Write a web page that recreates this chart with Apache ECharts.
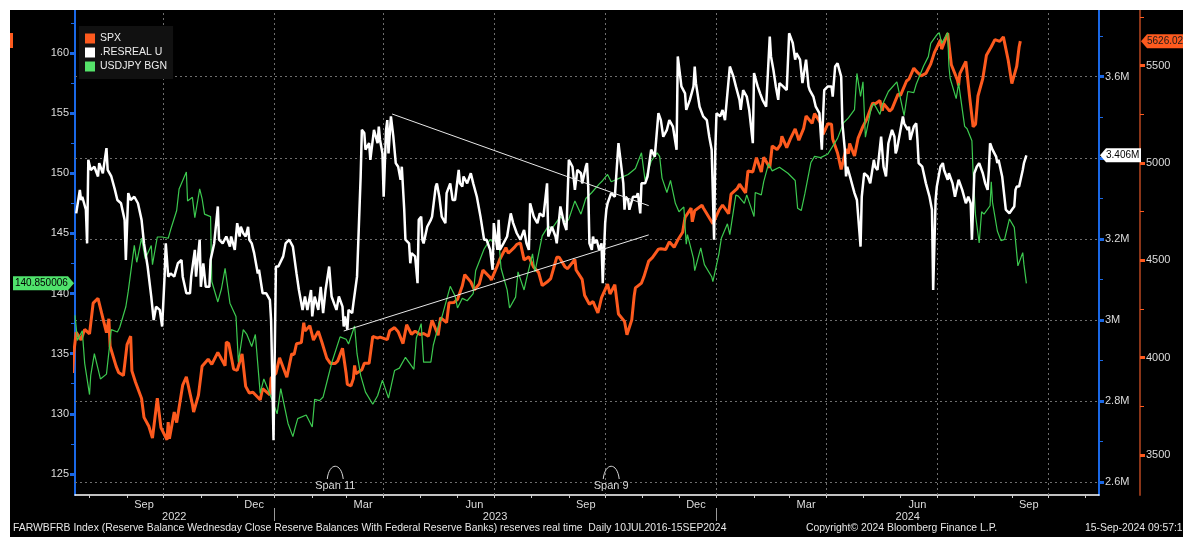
<!DOCTYPE html>
<html><head><meta charset="utf-8">
<script src="https://cdn.jsdelivr.net/npm/echarts@6/dist/echarts.min.js"></script>
<style>
html,body{margin:0;padding:0;background:#fff;width:1194px;height:546px;overflow:hidden}
#chart{position:absolute;left:10px;top:10px;width:1173px;height:527px;background:#000}
</style></head><body><div id="chart"></div>
<script>
// ---------------- DATA ----------------
const seriesNames = ['SPX', '.RESREAL U', 'USDJPY BGN'];

// SPX (right outer axis), [date, close]
const spx = [
['2022-07-18',3921],['2022-07-19',4024],['2022-07-21',4130],['2022-07-25',4091],['2022-07-28',4145],
['2022-08-01',4122],['2022-08-04',4280],['2022-08-08',4305],['2022-08-11',4228],['2022-08-15',4128],
['2022-08-17',4199],['2022-08-18',4058],['2022-08-23',3955],['2022-08-25',3924],['2022-08-29',3908],
['2022-09-01',4067],['2022-09-04',4110],['2022-09-05',3932],['2022-09-08',3873],['2022-09-13',3790],
['2022-09-15',3693],['2022-09-19',3647],['2022-09-22',3586],['2022-09-26',3791],['2022-09-29',3640],
['2022-10-04',3577],['2022-10-05',3669],['2022-10-06',3583],['2022-10-10',3720],['2022-10-12',3666],
['2022-10-17',3859],['2022-10-20',3901],['2022-10-25',3760],['2022-10-26',3720],['2022-10-30',3807],
['2022-11-02',3956],['2022-11-07',3992],['2022-11-10',3965],['2022-11-15',4027],['2022-11-21',3958],
['2022-11-22',4080],['2022-11-24',4072],['2022-11-28',3941],['2022-12-01',3934],['2022-12-05',4019],
['2022-12-08',3852],['2022-12-11',3818],['2022-12-14',3822],['2022-12-20',3783],['2022-12-22',3840],
['2022-12-28',3808],['2022-12-29',3895],['2023-01-02',3919],['2023-01-05',3999],['2023-01-11',3899],
['2023-01-15',4019],['2023-01-17',4016],['2023-01-19',4071],['2023-01-23',4077],['2023-01-25',4179],
['2023-01-26',4136],['2023-01-30',4164],['2023-02-02',4090],['2023-02-06',4136],['2023-02-09',4079],
['2023-02-13',3997],['2023-02-16',3970],['2023-02-20',3970],['2023-02-22',3982],['2023-02-26',4048],
['2023-03-01',3918],['2023-03-02',3862],['2023-03-05',3855],['2023-03-07',3892],['2023-03-08',3960],
['2023-03-09',3917],['2023-03-14',3937],['2023-03-16',3971],['2023-03-20',3971],['2023-03-23',4109],
['2023-03-27',4100],['2023-03-29',4105],['2023-04-04',4092],['2023-04-06',4138],['2023-04-10',4154],
['2023-04-13',4133],['2023-04-17',4072],['2023-04-20',4169],['2023-04-24',4120],['2023-04-27',4136],
['2023-05-01',4119],['2023-05-04',4124],['2023-05-08',4110],['2023-05-11',4192],['2023-05-16',4115],
['2023-05-18',4205],['2023-05-23',4180],['2023-05-25',4282],['2023-05-29',4283],['2023-06-01',4299],
['2023-06-05',4369],['2023-06-07',4426],['2023-06-12',4389],['2023-06-15',4348],['2023-06-19',4378],
['2023-06-22',4450],['2023-06-28',4411],['2023-06-29',4399],['2023-07-04',4473],['2023-07-06',4505],
['2023-07-11',4565],['2023-07-13',4536],['2023-07-18',4566],['2023-07-20',4582],['2023-07-23',4589],
['2023-07-26',4502],['2023-07-30',4518],['2023-08-03',4464],['2023-08-07',4438],['2023-08-10',4370],
['2023-08-14',4388],['2023-08-17',4406],['2023-08-22',4515],['2023-08-24',4516],['2023-08-29',4465],
['2023-08-31',4457],['2023-09-06',4505],['2023-09-07',4450],['2023-09-12',4402],['2023-09-14',4320],
['2023-09-18',4274],['2023-09-21',4288],['2023-09-25',4229],['2023-09-28',4308],['2023-10-03',4377],
['2023-10-05',4327],['2023-10-09',4374],['2023-10-12',4224],['2023-10-17',4186],['2023-10-19',4117],
['2023-10-23',4194],['2023-10-25',4318],['2023-10-26',4358],['2023-10-31',4383],['2023-11-02',4415],
['2023-11-06',4496],['2023-11-09',4514],['2023-11-14',4557],['2023-11-16',4559],['2023-11-20',4555],
['2023-11-23',4595],['2023-11-27',4567],['2023-11-30',4604],['2023-12-04',4644],['2023-12-06',4720],
['2023-12-11',4768],['2023-12-12',4698],['2023-12-14',4755],['2023-12-20',4783],['2023-12-21',4770],
['2023-12-29',4688],['2023-12-30',4697],['2024-01-03',4757],['2024-01-06',4784],['2024-01-11',4739],
['2024-01-13',4840],['2024-01-18',4868],['2024-01-20',4891],['2024-01-25',4846],['2024-01-27',4959],
['2024-01-31',4954],['2024-02-03',5027],['2024-02-07',4953],['2024-02-09',5030],['2024-02-14',4976],
['2024-02-16',5087],['2024-02-20',5069],['2024-02-23',5096],['2024-02-24',5137],['2024-02-28',5079],
['2024-03-02',5124],['2024-03-06',5175],['2024-03-09',5117],['2024-03-13',5178],['2024-03-15',5241],
['2024-03-20',5204],['2024-03-22',5254],['2024-03-27',5206],['2024-03-29',5147],['2024-04-02',5202],
['2024-04-05',5199],['2024-04-06',5123],['2024-04-10',5051],['2024-04-13',4967],['2024-04-17',5071],
['2024-04-19',5048],['2024-04-20',5100],['2024-04-24',5036],['2024-04-27',5128],['2024-05-01',5188],
['2024-05-04',5223],['2024-05-09',5308],['2024-05-11',5303],['2024-05-15',5321],['2024-05-17',5268],
['2024-05-18',5305],['2024-05-23',5267],['2024-05-25',5278],['2024-05-30',5354],['2024-06-01',5347],
['2024-06-06',5421],['2024-06-08',5431],['2024-06-12',5487],['2024-06-15',5465],['2024-06-18',5448],
['2024-06-22',5460],['2024-06-26',5509],['2024-06-29',5567],['2024-07-04',5633],['2024-07-05',5585],
['2024-07-10',5667],['2024-07-13',5505],['2024-07-18',5427],['2024-07-19',5399],['2024-07-20',5459],
['2024-07-25',5522],['2024-07-28',5346],['2024-07-31',5186],['2024-08-02',5199],['2024-08-04',5344],
['2024-08-08',5434],['2024-08-11',5554],['2024-08-15',5597],['2024-08-18',5634],['2024-08-22',5625],
['2024-08-25',5648],['2024-08-29',5528],['2024-09-01',5408],['2024-09-05',5496],['2024-09-07',5596],
['2024-09-08',5626.02]
];

// Reserve balances (right inner axis, in M units as on axis), [date, value]
const reserves = [
['2022-07-21',3.263],['2022-07-24',3.321],['2022-07-25',3.296],['2022-07-26',3.304],['2022-07-29',3.272],
['2022-07-30',3.189],['2022-07-31',3.395],['2022-08-02',3.370],['2022-08-05',3.378],['2022-08-08',3.354],
['2022-08-09',3.387],['2022-08-12',3.362],['2022-08-15',3.424],['2022-08-16',3.370],['2022-08-19',3.354],
['2022-08-22',3.321],['2022-08-24',3.296],['2022-08-27',3.288],['2022-08-30',3.247],['2022-08-31',3.148],
['2022-09-02',3.313],['2022-09-04',3.296],['2022-09-07',3.304],['2022-09-10',3.288],['2022-09-13',3.247],
['2022-09-15',3.189],['2022-09-18',3.132],['2022-09-21',3.058],['2022-09-23',3.000],['2022-09-25',3.033],
['2022-09-28',3.025],['2022-09-30',2.984],['2022-10-02',3.107],['2022-10-03',3.189],['2022-10-05',3.107],
['2022-10-07',3.115],['2022-10-10',3.107],['2022-10-13',3.140],['2022-10-16',3.148],['2022-10-17',3.107],
['2022-10-20',3.066],['2022-10-23',3.066],['2022-10-24',3.107],['2022-10-27',3.173],['2022-10-28',3.107],
['2022-10-31',3.198],['2022-11-01',3.082],['2022-11-03',3.140],['2022-11-05',3.082],['2022-11-08',3.082],
['2022-11-09',3.148],['2022-11-12',3.189],['2022-11-15',3.280],['2022-11-16',3.198],['2022-11-19',3.189],
['2022-11-22',3.206],['2022-11-25',3.181],['2022-11-26',3.206],['2022-11-29',3.173],['2022-12-01',3.239],
['2022-12-03',3.206],['2022-12-04',3.230],['2022-12-06',3.214],['2022-12-08',3.206],['2022-12-10',3.230],
['2022-12-11',3.198],['2022-12-13',3.189],['2022-12-15',3.165],['2022-12-18',3.115],['2022-12-19',3.124],
['2022-12-22',3.066],['2022-12-25',3.066],['2022-12-28',3.050],['2022-12-29',3.000],['2022-12-30',2.860],
['2022-12-31',2.704],['2023-01-02',3.132],['2023-01-04',3.132],['2023-01-08',3.157],['2023-01-10',3.189],
['2023-01-13',3.198],['2023-01-16',3.181],['2023-01-19',3.115],['2023-01-21',3.074],['2023-01-24',3.025],
['2023-01-26',3.058],['2023-01-28',3.025],['2023-01-31',3.074],['2023-02-01',3.009],['2023-02-03',3.058],
['2023-02-06',3.025],['2023-02-08',3.082],['2023-02-10',3.017],['2023-02-12',3.074],['2023-02-15',3.132],
['2023-02-17',3.058],['2023-02-19',3.041],['2023-02-21',3.025],['2023-02-23',3.058],['2023-02-26',3.033],
['2023-02-27',2.984],['2023-02-28',3.009],['2023-03-02',2.976],['2023-03-03',3.025],['2023-03-06',3.017],
['2023-03-07',3.041],['2023-03-10',3.107],['2023-03-11',3.189],['2023-03-13',3.354],['2023-03-14',3.469],
['2023-03-16',3.461],['2023-03-17',3.420],['2023-03-20',3.436],['2023-03-21',3.395],['2023-03-24',3.469],
['2023-03-27',3.436],['2023-03-28',3.477],['2023-03-29',3.444],['2023-03-31',3.411],['2023-04-01',3.304],
['2023-04-03',3.469],['2023-04-04',3.493],['2023-04-05',3.411],['2023-04-07',3.502],['2023-04-08',3.506],
['2023-04-09',3.452],['2023-04-11',3.387],['2023-04-13',3.378],['2023-04-15',3.346],['2023-04-16',3.378],
['2023-04-18',3.272],['2023-04-19',3.198],['2023-04-22',3.189],['2023-04-23',3.140],['2023-04-24',3.165],
['2023-04-27',3.157],['2023-04-29',3.091],['2023-04-30',3.247],['2023-05-02',3.255],['2023-05-03',3.198],
['2023-05-04',3.189],['2023-05-07',3.230],['2023-05-10',3.247],['2023-05-11',3.255],['2023-05-14',3.329],
['2023-05-15',3.337],['2023-05-17',3.304],['2023-05-19',3.255],['2023-05-22',3.239],['2023-05-23',3.313],
['2023-05-26',3.337],['2023-05-28',3.296],['2023-05-30',3.296],['2023-06-02',3.370],['2023-06-03',3.337],
['2023-06-05',3.329],['2023-06-06',3.354],['2023-06-09',3.337],['2023-06-12',3.362],['2023-06-14',3.337],
['2023-06-17',3.304],['2023-06-20',3.255],['2023-06-23',3.198],['2023-06-25',3.198],['2023-06-28',3.173],
['2023-06-30',3.124],['2023-07-01',3.239],['2023-07-04',3.173],['2023-07-05',3.247],['2023-07-06',3.173],
['2023-07-09',3.189],['2023-07-12',3.206],['2023-07-15',3.263],['2023-07-17',3.239],['2023-07-20',3.214],
['2023-07-23',3.198],['2023-07-26',3.222],['2023-07-28',3.189],['2023-07-30',3.173],['2023-07-31',3.288],
['2023-08-03',3.255],['2023-08-06',3.239],['2023-08-08',3.263],['2023-08-11',3.255],['2023-08-14',3.337],
['2023-08-15',3.206],['2023-08-18',3.230],['2023-08-21',3.206],['2023-08-22',3.189],['2023-08-25',3.280],
['2023-08-28',3.239],['2023-08-30',3.222],['2023-09-01',3.395],['2023-09-04',3.378],['2023-09-06',3.321],
['2023-09-08',3.370],['2023-09-11',3.362],['2023-09-12',3.337],['2023-09-15',3.378],['2023-09-16',3.387],
['2023-09-17',3.329],['2023-09-18',3.189],['2023-09-20',3.173],['2023-09-21',3.206],['2023-09-22',3.189],
['2023-09-24',3.198],['2023-09-26',3.173],['2023-09-28',3.189],['2023-09-29',3.091],['2023-10-01',3.239],
['2023-10-02',3.272],['2023-10-03',3.288],['2023-10-06',3.313],['2023-10-09',3.304],['2023-10-12',3.436],
['2023-10-13',3.436],['2023-10-14',3.387],['2023-10-16',3.337],['2023-10-17',3.272],['2023-10-18',3.304],
['2023-10-20',3.296],['2023-10-21',3.272],['2023-10-24',3.304],['2023-10-27',3.304],['2023-10-28',3.313],
['2023-10-30',3.263],['2023-10-31',3.337],['2023-11-03',3.337],['2023-11-05',3.354],['2023-11-08',3.420],
['2023-11-11',3.403],['2023-11-14',3.510],['2023-11-16',3.493],['2023-11-18',3.452],['2023-11-21',3.469],
['2023-11-23',3.493],['2023-11-26',3.477],['2023-11-29',3.420],['2023-11-30',3.650],['2023-12-03',3.576],
['2023-12-06',3.559],['2023-12-07',3.518],['2023-12-10',3.543],['2023-12-13',3.576],['2023-12-14',3.625],
['2023-12-15',3.584],['2023-12-18',3.526],['2023-12-21',3.502],['2023-12-24',3.493],['2023-12-26',3.452],
['2023-12-28',3.420],['2023-12-30',3.198],['2023-12-31',3.420],['2024-01-01',3.510],['2024-01-04',3.502],
['2024-01-06',3.518],['2024-01-08',3.493],['2024-01-10',3.559],['2024-01-12',3.625],['2024-01-15',3.600],
['2024-01-17',3.576],['2024-01-20',3.543],['2024-01-21',3.518],['2024-01-23',3.567],['2024-01-26',3.551],
['2024-01-28',3.518],['2024-01-31',3.436],['2024-02-01',3.609],['2024-02-04',3.576],['2024-02-06',3.559],
['2024-02-08',3.543],['2024-02-11',3.526],['2024-02-14',3.699],['2024-02-15',3.650],['2024-02-17',3.617],
['2024-02-19',3.576],['2024-02-21',3.543],['2024-02-22',3.584],['2024-02-25',3.576],['2024-02-28',3.567],
['2024-03-01',3.707],['2024-03-04',3.683],['2024-03-06',3.642],['2024-03-07',3.658],['2024-03-10',3.642],
['2024-03-12',3.584],['2024-03-15',3.642],['2024-03-17',3.576],['2024-03-18',3.567],['2024-03-21',3.551],
['2024-03-23',3.526],['2024-03-26',3.510],['2024-03-28',3.420],['2024-03-29',3.502],['2024-03-30',3.567],
['2024-04-02',3.576],['2024-04-05',3.576],['2024-04-06',3.551],['2024-04-08',3.625],['2024-04-10',3.633],
['2024-04-13',3.600],['2024-04-14',3.485],['2024-04-16',3.420],['2024-04-17',3.354],['2024-04-18',3.378],
['2024-04-21',3.346],['2024-04-24',3.313],['2024-04-26',3.296],['2024-04-29',3.181],['2024-04-30',3.304],
['2024-05-02',3.362],['2024-05-05',3.354],['2024-05-07',3.337],['2024-05-10',3.395],['2024-05-11',3.378],
['2024-05-13',3.370],['2024-05-16',3.452],['2024-05-18',3.378],['2024-05-20',3.354],['2024-05-22',3.436],
['2024-05-25',3.469],['2024-05-27',3.452],['2024-05-28',3.411],['2024-05-29',3.420],['2024-06-01',3.469],
['2024-06-03',3.502],['2024-06-04',3.485],['2024-06-07',3.469],['2024-06-08',3.477],['2024-06-09',3.444],
['2024-06-12',3.477],['2024-06-14',3.485],['2024-06-15',3.444],['2024-06-16',3.387],['2024-06-19',3.378],
['2024-06-22',3.337],['2024-06-25',3.304],['2024-06-27',3.272],['2024-06-28',3.074],['2024-06-30',3.296],
['2024-07-01',3.329],['2024-07-04',3.378],['2024-07-06',3.387],['2024-07-07',3.370],['2024-07-10',3.346],
['2024-07-11',3.362],['2024-07-14',3.337],['2024-07-16',3.304],['2024-07-19',3.346],['2024-07-22',3.321],
['2024-07-25',3.288],['2024-07-27',3.304],['2024-07-29',3.288],['2024-07-30',3.198],['2024-08-01',3.362],
['2024-08-03',3.378],['2024-08-05',3.387],['2024-08-08',3.362],['2024-08-10',3.337],['2024-08-12',3.321],
['2024-08-13',3.370],['2024-08-14',3.436],['2024-08-16',3.420],['2024-08-19',3.403],['2024-08-20',3.387],
['2024-08-21',3.395],['2024-08-24',3.354],['2024-08-27',3.272],['2024-08-30',3.263],['2024-09-01',3.272],
['2024-09-03',3.280],['2024-09-04',3.321],['2024-09-05',3.329],['2024-09-07',3.329],['2024-09-10',3.370],
['2024-09-11',3.387],['2024-09-13',3.406]
];

// USDJPY (left axis), [date, close]
const usdjpy = [
['2022-07-20',138.2],['2022-07-22',136.1],['2022-07-26',136.9],['2022-07-28',134.2],['2022-08-01',131.6],
['2022-08-02',133.2],['2022-08-05',135.0],['2022-08-10',132.9],['2022-08-15',133.3],['2022-08-19',137.0],
['2022-08-24',136.8],['2022-08-26',137.2],['2022-08-31',138.9],['2022-09-02',140.2],['2022-09-07',144.0],
['2022-09-09',142.6],['2022-09-13',144.6],['2022-09-16',142.9],['2022-09-21',144.0],['2022-09-22',142.4],
['2022-09-26',144.7],['2022-09-30',144.7],['2022-10-05',144.6],['2022-10-07',145.3],['2022-10-12',146.9],
['2022-10-14',148.7],['2022-10-20',150.1],['2022-10-21',147.7],['2022-10-25',148.0],['2022-10-27',146.3],
['2022-10-31',148.7],['2022-11-02',147.9],['2022-11-04',146.6],['2022-11-09',146.4],['2022-11-10',141.0],
['2022-11-15',139.3],['2022-11-18',140.4],['2022-11-21',142.1],['2022-11-25',139.2],['2022-11-30',138.1],
['2022-12-02',134.3],['2022-12-06',137.0],['2022-12-09',136.6],['2022-12-13',135.6],['2022-12-16',136.6],
['2022-12-20',131.7],['2022-12-23',132.9],['2022-12-30',131.1],['2023-01-03',130.0],['2023-01-06',132.1],
['2023-01-12',129.2],['2023-01-16',128.1],['2023-01-18',128.9],['2023-01-20',129.6],['2023-01-27',129.9],
['2023-02-01',128.9],['2023-02-03',131.2],['2023-02-07',131.1],['2023-02-10',131.4],['2023-02-14',133.0],
['2023-02-17',134.2],['2023-02-24',136.4],['2023-03-01',136.2],['2023-03-03',135.8],['2023-03-08',137.3],
['2023-03-10',135.0],['2023-03-13',133.2],['2023-03-17',131.8],['2023-03-23',130.8],['2023-03-27',131.5],
['2023-03-31',132.8],['2023-04-05',131.3],['2023-04-10',133.6],['2023-04-14',133.8],['2023-04-19',134.7],
['2023-04-26',133.7],['2023-04-28',136.3],['2023-05-02',137.5],['2023-05-04',134.3],['2023-05-10',134.3],
['2023-05-12',135.7],['2023-05-17',137.6],['2023-05-19',138.0],['2023-05-26',140.6],['2023-05-30',139.8],
['2023-06-01',138.8],['2023-06-05',139.6],['2023-06-09',139.4],['2023-06-14',140.0],['2023-06-16',141.9],
['2023-06-23',143.7],['2023-06-28',144.5],['2023-06-30',144.3],['2023-07-05',144.6],['2023-07-07',142.1],
['2023-07-12',140.3],['2023-07-14',138.8],['2023-07-19',139.7],['2023-07-21',141.8],['2023-07-26',140.3],
['2023-07-28',141.2],['2023-08-02',143.3],['2023-08-04',141.8],['2023-08-10',144.8],['2023-08-15',145.6],
['2023-08-18',145.4],['2023-08-25',146.4],['2023-08-30',145.9],['2023-09-01',146.2],['2023-09-06',147.7],
['2023-09-11',146.6],['2023-09-15',147.9],['2023-09-20',148.4],['2023-09-26',149.1],['2023-09-29',149.4],
['2023-10-03',149.9],['2023-10-06',149.3],['2023-10-13',149.6],['2023-10-20',149.9],['2023-10-26',150.4],
['2023-10-31',151.7],['2023-11-03',149.4],['2023-11-08',151.0],['2023-11-13',151.7],['2023-11-15',151.4],
['2023-11-17',149.6],['2023-11-21',148.4],['2023-11-24',149.4],['2023-11-28',147.5],['2023-12-01',146.8],
['2023-12-05',147.2],['2023-12-07',144.1],['2023-12-08',144.9],['2023-12-13',142.9],['2023-12-14',141.9],
['2023-12-19',143.8],['2023-12-22',142.4],['2023-12-28',141.4],['2023-12-29',141.0],['2024-01-03',143.3],
['2024-01-05',144.6],['2024-01-10',145.8],['2024-01-12',144.9],['2024-01-17',148.2],['2024-01-19',148.1],
['2024-01-24',147.5],['2024-01-26',148.2],['2024-02-01',146.4],['2024-02-02',148.4],['2024-02-07',148.2],
['2024-02-09',149.3],['2024-02-13',150.8],['2024-02-16',150.2],['2024-02-22',150.5],['2024-02-29',150.0],
['2024-03-06',149.4],['2024-03-08',147.1],['2024-03-11',146.9],['2024-03-14',148.3],['2024-03-19',150.9],
['2024-03-22',151.4],['2024-03-27',151.3],['2024-04-02',151.6],['2024-04-10',152.9],['2024-04-15',154.2],
['2024-04-19',154.6],['2024-04-24',155.3],['2024-04-26',158.3],['2024-04-29',156.4],['2024-05-01',157.6],
['2024-05-03',153.0],['2024-05-08',155.5],['2024-05-10',155.8],['2024-05-15',154.9],['2024-05-17',155.7],
['2024-05-22',156.8],['2024-05-29',157.6],['2024-06-04',154.8],['2024-06-07',156.8],['2024-06-12',156.7],
['2024-06-14',157.4],['2024-06-20',158.9],['2024-06-24',159.7],['2024-06-26',160.8],['2024-07-01',161.5],
['2024-07-03',161.7],['2024-07-05',160.8],['2024-07-10',161.7],['2024-07-11',158.9],['2024-07-12',157.9],
['2024-07-17',156.2],['2024-07-19',157.5],['2024-07-24',153.9],['2024-07-26',153.7],['2024-07-30',152.7],
['2024-07-31',150.0],['2024-08-02',146.5],['2024-08-05',144.2],['2024-08-07',146.8],['2024-08-09',146.6],
['2024-08-14',147.3],['2024-08-15',149.3],['2024-08-16',147.6],['2024-08-20',145.2],['2024-08-23',144.4],
['2024-08-26',144.5],['2024-08-30',146.2],['2024-09-03',145.5],['2024-09-06',142.3],['2024-09-10',143.4],
['2024-09-11',142.4],['2024-09-13',140.850006]
];

// Hand-drawn trend lines (on the reserves scale)
const trendUpper = [['2023-04-08',3.508],['2023-11-06',3.282]];
const trendLower = [['2023-02-27',2.973],['2023-11-06',3.210]];

// Span annotations
const spans = [['2023-02-20','Span 11'],['2023-10-06','Span 9']];

// Axes: ranges and ticks
const xRange = ['2022-07-20','2024-11-12'];
const monthLabelDates = ['2022-09-15','2022-12-15','2023-03-15','2023-06-15','2023-09-15','2023-12-15','2024-03-15','2024-06-15','2024-09-15'];
const monthLabels = ['Sep','Dec','Mar','Jun','Sep','Dec','Mar','Jun','Sep'];
const monthStarts = ['2022-08-01','2022-09-01','2022-10-01','2022-11-01','2022-12-01','2023-01-01','2023-02-01','2023-03-01','2023-04-01','2023-05-01','2023-06-01','2023-07-01','2023-08-01','2023-09-01','2023-10-01','2023-11-01','2023-12-01','2024-01-01','2024-02-01','2024-03-01','2024-04-01','2024-05-01','2024-06-01','2024-07-01','2024-08-01','2024-09-01','2024-10-01','2024-11-01'];
const quarterStarts = ['2022-10-01','2023-01-01','2023-04-01','2023-07-01','2023-10-01','2024-01-01','2024-04-01','2024-07-01','2024-10-01'];
const yearStarts = ['2023-01-01','2024-01-01'];
const yearLabelDates = ['2022-10-10','2023-07-02','2024-06-07'];
const yearLabels = ['2022','2023','2024'];

const jpyRange = [123.25, 163.575];
const jpyTicks = [125,130,135,140,145,150,155,160];
const jpyMinor = [127.5,132.5,137.5,142.5,147.5,152.5,157.5,162.5];
const resRange = [2.5687, 3.7644];
const resTicks = [2.6,2.8,3.0,3.2,3.4,3.6];
const resLabels = [2.6,2.8,3.0,3.2,3.6];
const resMinor = [2.7,2.9,3.1,3.3,3.5,3.7];
const spxRange = [3294, 5786];
const spxTicks = [3500,4000,4500,5000,5500];
const spxMinor = [3750,4250,4750,5250,5750];

const footerLeft = 'FARWBFRB Index (Reserve Balance Wednesday Close Reserve Balances With Federal Reserve Banks) reserves real time  Daily 10JUL2016-15SEP2024';
const footerMid = 'Copyright\u00A9 2024 Bloomberg Finance L.P.';
const footerRight = '15-Sep-2024 09:57:18';

// ---------------- CHART ----------------
const FONT = '"Liberation Sans", Arial, sans-serif';
const ORANGE = '#fd5a1e', WHITE = '#ffffff', GREEN = '#3cc94f', BLUE = '#1a68e6', TXT = '#dcdcdc';
const P = s => +echarts.time.parse(s);          // date string -> timestamp
const toXY = rows => rows.map(r => [P(r[0]), r[1]]);
const chart = echarts.init(document.getElementById('chart'), null, {renderer: 'canvas'});

function yAx(range, ticks, labels, color, lineColor, pos, offset, fmt) {
  return {
    type: 'value', position: pos, offset: offset, min: range[0], max: range[1],
    axisLine: {show: true, onZero: false, lineStyle: {color: lineColor, width: 2}},
    axisTick: {show: true, customValues: ticks, length: 5, lineStyle: {color: color, width: 3}},
    axisLabel: {show: true, customValues: labels, color: TXT, fontSize: 11, fontFamily: FONT, margin: 6, formatter: fmt},
    splitLine: {show: false}
  };
}
function yMinor(range, ticks, color, pos, offset) {
  return {
    type: 'value', position: pos, offset: offset, min: range[0], max: range[1],
    axisLine: {show: false}, axisLabel: {show: false}, splitLine: {show: false},
    axisTick: {show: true, customValues: ticks, length: 4, lineStyle: {color: color, width: 1}}
  };
}
const monthLabelTs = monthLabelDates.map(P);
const yearLabelTs = yearLabelDates.map(P);

const option = {
  backgroundColor: '#000',
  animation: false,
  grid: {left: 65, right: 84, top: 0, bottom: 42, containLabel: false},
  legend: {
    data: seriesNames, orient: 'vertical', left: 69, top: 16, icon: 'rect',
    itemWidth: 10, itemHeight: 10, itemGap: 3, padding: [7, 6, 7, 6],
    backgroundColor: '#111', selectedMode: false,
    textStyle: {color: '#eee', fontSize: 10.5, fontFamily: FONT, lineHeight: 10}
  },
  xAxis: [
    {
      type: 'value', min: P(xRange[0]), max: P(xRange[1]), position: 'bottom',
      axisLine: {show: true, onZero: false, lineStyle: {color: '#fff', width: 1.5}},
      axisTick: {show: true, customValues: monthStarts.map(P), length: 3, lineStyle: {color: '#ccc'}},
      axisLabel: {show: true, customValues: monthLabelTs, color: TXT, fontSize: 11, fontFamily: FONT, margin: 4,
        formatter: v => { const i = monthLabelTs.indexOf(v); return i >= 0 ? monthLabels[i] : ''; }},
      splitLine: {show: false}
    },
    {
      type: 'value', min: P(xRange[0]), max: P(xRange[1]), position: 'bottom', offset: 13,
      axisLine: {show: false},
      axisTick: {show: true, customValues: yearStarts.map(P), length: 13, lineStyle: {color: '#999'}},
      axisLabel: {show: true, customValues: yearLabelTs, color: TXT, fontSize: 11, fontFamily: FONT, margin: 3,
        formatter: v => { const i = yearLabelTs.indexOf(v); return i >= 0 ? yearLabels[i] : ''; }},
      splitLine: {show: false}
    }
  ],
  yAxis: [
    yAx(jpyRange, jpyTicks, jpyTicks, BLUE, BLUE, 'left', 0, v => String(v)),
    yAx(resRange, resTicks, resLabels, BLUE, BLUE, 'right', 0, v => (Math.round(v * 10) / 10) + 'M'),
    yAx(spxRange, spxTicks, spxTicks, ORANGE, '#8a3518', 'right', 41, v => String(v)),
    yMinor(jpyRange, jpyMinor, BLUE, 'left', 0),
    yMinor(resRange, resMinor, BLUE, 'right', 0),
    yMinor(spxRange, spxMinor, ORANGE, 'right', 41)
  ],
  series: [
    {
      name: 'SPX', type: 'line', yAxisIndex: 2, data: toXY(spx), showSymbol: false, z: 2,
      lineStyle: {color: ORANGE, width: 3}, itemStyle: {color: ORANGE}
    },
    {
      name: '.RESREAL U', type: 'line', yAxisIndex: 1, data: toXY(reserves), showSymbol: false, z: 4,
      lineStyle: {color: WHITE, width: 2.5}, itemStyle: {color: WHITE},
      markLine: {
        silent: true, symbol: 'none', z: 1, animation: false,
        label: {show: false},
        lineStyle: {color: '#6e6e6e', type: [2, 3], width: 1},
        data: quarterStarts.map(d => ({xAxis: P(d)})).concat(resTicks.map(v => ({yAxis: v})))
      }
    },
    {
      name: 'USDJPY BGN', type: 'line', yAxisIndex: 0, data: toXY(usdjpy), showSymbol: false, z: 3,
      lineStyle: {color: GREEN, width: 1.2}, itemStyle: {color: '#55e36a'}
    },
    {
      name: 'trendUpper', type: 'line', yAxisIndex: 1, data: toXY(trendUpper), showSymbol: false, z: 5,
      lineStyle: {color: '#e8e8e8', width: 1}, silent: true
    },
    {
      name: 'trendLower', type: 'line', yAxisIndex: 1, data: toXY(trendLower), showSymbol: false, z: 5,
      lineStyle: {color: '#e8e8e8', width: 1}, silent: true
    }
  ]
};
chart.setOption(option);

// ---- overlay graphics positioned through the chart's own scales ----
const xL = chart.convertToPixel({xAxisIndex: 0}, P(xRange[0]));
const xR = chart.convertToPixel({xAxisIndex: 0}, P(xRange[1]));
const yBottom = chart.convertToPixel({yAxisIndex: 0}, jpyRange[0]);
const xS = xR + 41;
const lastJpy = usdjpy[usdjpy.length - 1][1];
const lastRes = reserves[reserves.length - 1][1];
const lastSpx = spx[spx.length - 1][1];
const yJ = chart.convertToPixel({yAxisIndex: 0}, lastJpy);
const yRs = chart.convertToPixel({yAxisIndex: 1}, lastRes);
const ySp = chart.convertToPixel({yAxisIndex: 2}, lastSpx);
const tagFont = '10px ' + FONT;
const spanFont = '11px ' + FONT;
const footFont = '10.4px ' + FONT;

const g = [];
g.push({type: 'polygon', z: 100, shape: {points: [[3, yJ - 7], [xL - 7, yJ - 7], [xL - 1, yJ], [xL - 7, yJ + 7], [3, yJ + 7]]}, style: {fill: '#4fe26b'}});
g.push({type: 'text', z: 101, x: 5, y: yJ, style: {text: String(lastJpy), font: tagFont, fill: '#000', verticalAlign: 'middle'}});
g.push({type: 'polygon', z: 100, shape: {points: [[xR + 1, yRs], [xR + 7, yRs - 7], [xR + 42, yRs - 7], [xR + 42, yRs + 7], [xR + 7, yRs + 7]]}, style: {fill: '#fff'}});
g.push({type: 'text', z: 101, x: xR + 7, y: yRs, style: {text: lastRes.toFixed(3) + 'M', font: tagFont, fill: '#000', verticalAlign: 'middle'}});
g.push({type: 'polygon', z: 100, shape: {points: [[xS + 1, ySp], [xS + 7, ySp - 7], [xS + 60, ySp - 7], [xS + 60, ySp + 7], [xS + 7, ySp + 7]]}, style: {fill: ORANGE}});
g.push({type: 'text', z: 101, x: xS + 7, y: ySp, style: {text: lastSpx.toFixed(2), font: tagFont, fill: '#1a1a1a', verticalAlign: 'middle'}});
spans.forEach(([d, label]) => {
  const cx = chart.convertToPixel({xAxisIndex: 0}, P(d));
  g.push({type: 'bezierCurve', z: 50, shape: {x1: cx - 8, y1: yBottom - 16, cpx1: cx - 6, cpy1: yBottom - 33, cpx2: cx + 6, cpy2: yBottom - 33, x2: cx + 8, y2: yBottom - 16}, style: {stroke: '#d8d8d8', lineWidth: 1, fill: null}});
  g.push({type: 'text', z: 50, x: cx, y: yBottom - 9, style: {text: label, font: spanFont, fill: '#d8d8d8', align: 'center', verticalAlign: 'middle'}});
});
g.push({type: 'rect', z: 100, shape: {x: 0, y: 23, width: 3, height: 15}, style: {fill: ORANGE}});
g.push({type: 'text', z: 100, x: 3, y: 518, style: {text: footerLeft, font: footFont, fill: '#e6e6e6', verticalAlign: 'middle'}});
g.push({type: 'text', z: 100, x: 796, y: 518, style: {text: footerMid, font: footFont, fill: '#e6e6e6', verticalAlign: 'middle'}});
g.push({type: 'text', z: 100, x: 1075, y: 518, style: {text: footerRight, font: footFont, fill: '#e6e6e6', verticalAlign: 'middle'}});
chart.setOption({graphic: g});
</script></body></html>
